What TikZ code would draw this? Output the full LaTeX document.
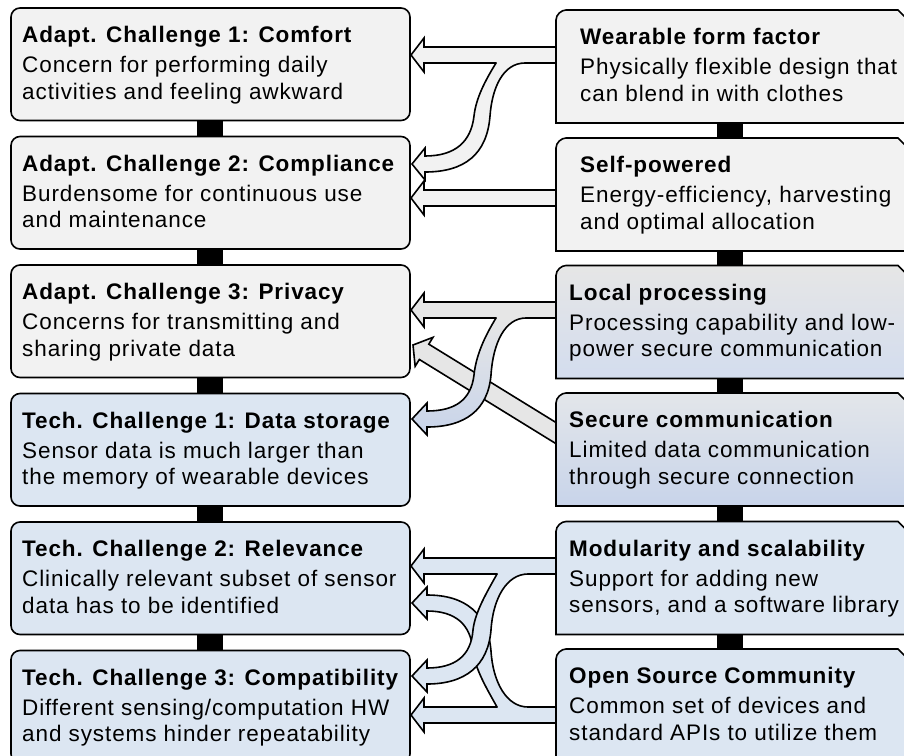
\documentclass[tikz,border=0pt]{standalone}
\usepackage{fontspec}
\setmainfont{Liberation Sans}[LetterSpace=4]
\definecolor{cgray}{HTML}{F2F2F2}
\definecolor{cblue}{HTML}{DCE6F2}
\definecolor{cmid}{HTML}{E6E6E6}
\definecolor{cmidblue}{HTML}{C8D4EA}

\tikzset{
  boxline/.style={draw=black, line width=1.6pt},
  arrline/.style={draw=black, line width=1.6pt, line join=miter, line cap=round},
  txt/.style={anchor=base west, inner sep=0pt, font=\fontsize{22.5}{27}\selectfont},
  ttl/.style={txt, font=\fontsize{22.5}{27}\selectfont\bfseries},
  bar/.style={fill=black}
}

% challenge card on the left: name, top, fill, title, two lines
\newcommand\leftcard[6]{%
  \draw[boxline, fill=#3, rounded corners=9pt] (11,#2) rectangle (410,#2+112.5);
  \node[ttl] (#1-t) at (22,#2+34.5) {#4};
  \node[txt] (#1-a) at (22,#2+64.5) {#5};
  \node[txt] (#1-b) at (22,#2+91) {#6};
}
% solution card on the right: name, top, fill options, text x, title, two lines
\newcommand\rightcard[7]{%
  \path[boxline, #3] (556,#2+113) -- (556,#2+10)
     .. controls (556,#2+4.5) and (561.5,#2) .. (566,#2)
     -- (898,#2) -- (912,#2+14) -- (912,#2+113) -- cycle;
  \node[ttl] (#1-t) at (#4,#2+34.5) {#5};
  \node[txt] (#1-a) at (#4,#2+64.5) {#6};
  \node[txt] (#1-b) at (#4,#2+91) {#7};
}

\begin{document}
\begin{tikzpicture}[x=1pt,y=-1pt]
\useasboundingbox (0,0) rectangle (904,755);
\clip (0,0) rectangle (904,755);

% black links between stacked cards
\foreach \b/\t in {120/137, 248/266, 377/394, 505/523, 634/651}
  \fill[bar] (197,\b) rectangle (223,\t);
\foreach \b/\t in {122/139, 250/266, 378/394, 505/522, 634/650}
  \fill[bar] (717,\b) rectangle (743,\t);

% challenges
\leftcard{L1}{8}{cgray}{Adapt. Challenge 1: Comfort}{Concern for performing daily}{activities and feeling awkward}
\leftcard{L2}{136.5}{cgray}{Adapt. Challenge 2: Compliance}{Burdensome for continuous use}{and maintenance}
\leftcard{L3}{265}{cgray}{Adapt. Challenge 3: Privacy}{Concerns for transmitting and}{sharing private data}
\leftcard{L4}{393.5}{cblue}{Tech. Challenge 1: Data storage}{Sensor data is much larger than}{the memory of wearable devices}
\leftcard{L5}{522}{cblue}{Tech. Challenge 2: Relevance}{Clinically relevant subset of sensor}{data has to be identified}
\leftcard{L6}{650.5}{cblue}{Tech. Challenge 3: Compatibility}{Different sensing/computation HW}{and systems hinder repeatability}

% wearable form factor -> comfort, compliance
\fill[cgray] (560,47) -- (424,47) -- (424,38) -- (411,55) -- (424,72) -- (424,63) -- (560,63) -- cycle;
\path[arrline, fill=cgray] (496,63) .. controls (485,81) and (476,98) .. (474,116)
  .. controls (471,142) and (455,156) .. (425,156) -- (425,148) -- (412,164) -- (425,180) -- (425,172)
  .. controls (465,172) and (487,154) .. (490,116) .. controls (492,88) and (503,63) .. (525,63);
\draw[arrline] (560,47) -- (424,47) -- (424,38) -- (411,55) -- (424,72) -- (424,63) -- (496,63)
  (525,63) -- (560,63);

% self-powered -> compliance
\draw[arrline, fill=cgray] (560,190) -- (424,190) -- (424,181) -- (411,198) -- (424,215) -- (424,206) -- (560,206) -- cycle;

% secure communication -> privacy
\draw[arrline, fill=cmid] (579.7,437.1) -- (428.78,344.15) -- (432.97,337.34) -- (413,345)
  -- (415.15,366.28) -- (419.34,359.47) -- (570.3,452.5) -- cycle;

% local processing -> privacy, data storage
\fill[cmid] (560,302) -- (424,302) -- (424,293) -- (411,310) -- (424,327) -- (424,318) -- (560,318) -- cycle;
\path[arrline, top color=cmid, bottom color=cmidblue] (496,318) .. controls (485,336) and (476,355) .. (474,375)
  .. controls (471,400) and (455,411) .. (427,411) -- (427,403) -- (412,419) -- (427,435) -- (427,427)
  .. controls (465,427) and (488,410) .. (491,375) .. controls (493,343) and (505,318) .. (526,318);
\draw[arrline] (560,302) -- (424,302) -- (424,293) -- (411,310) -- (424,327) -- (424,318) -- (496,318)
  (526,318) -- (560,318);

% modularity -> relevance, compatibility; open source -> compatibility, relevance
\fill[cblue] (560,558) -- (424,558) -- (424,549) -- (411,566) -- (424,583) -- (424,574) -- (560,574) -- cycle;
\fill[cblue] (560,707) -- (424,707) -- (424,698) -- (411,715) -- (424,732) -- (424,723) -- (560,723) -- cycle;
\path[arrline, fill=cblue] (497,707) .. controls (487,689) and (475,669) .. (473,651)
  .. controls (471,624) and (455,611) .. (427,611) -- (427,619) -- (412,603) -- (427,587) -- (427,595)
  .. controls (465,595) and (488,613) .. (491,651) .. controls (493,683) and (507,707) .. (528,707);
\path[arrline, fill=cblue] (497,574) .. controls (487,592) and (475,612) .. (473,630)
  .. controls (471,656) and (455,668) .. (427,668) -- (427,660) -- (412,676) -- (427,692) -- (427,684)
  .. controls (465,684) and (488,666) .. (491,630) .. controls (493,598) and (507,574) .. (528,574);
\draw[arrline] (560,558) -- (424,558) -- (424,549) -- (411,566) -- (424,583) -- (424,574) -- (497,574)
  (528,574) -- (560,574);
\draw[arrline] (560,723) -- (424,723) -- (424,732) -- (411,715) -- (424,698) -- (424,707) -- (497,707)
  (528,707) -- (560,707);

% solutions
\rightcard{R1}{10}{fill=cgray}{580}{Wearable form factor}{Physically flexible design that}{can blend in with clothes}
\rightcard{R2}{138}{fill=cgray}{580}{Self-powered}{Energy-efficiency, harvesting}{and optimal allocation}
\rightcard{R3}{265.5}{top color=cmid, bottom color=cmidblue!80!white}{569}{Local processing}{Processing capability and low-}{power secure communication}
\rightcard{R4}{393}{top color=cmid!70!cblue, bottom color=cmidblue}{569}{Secure communication}{Limited data communication}{through secure connection}
\rightcard{R5}{521.5}{fill=cblue}{569}{Modularity and scalability}{Support for adding new}{sensors, and a software library}
\rightcard{R6}{649}{fill=cblue}{569}{Open Source Community}{Common set of devices and}{standard APIs to utilize them}
\end{tikzpicture}
\end{document}
